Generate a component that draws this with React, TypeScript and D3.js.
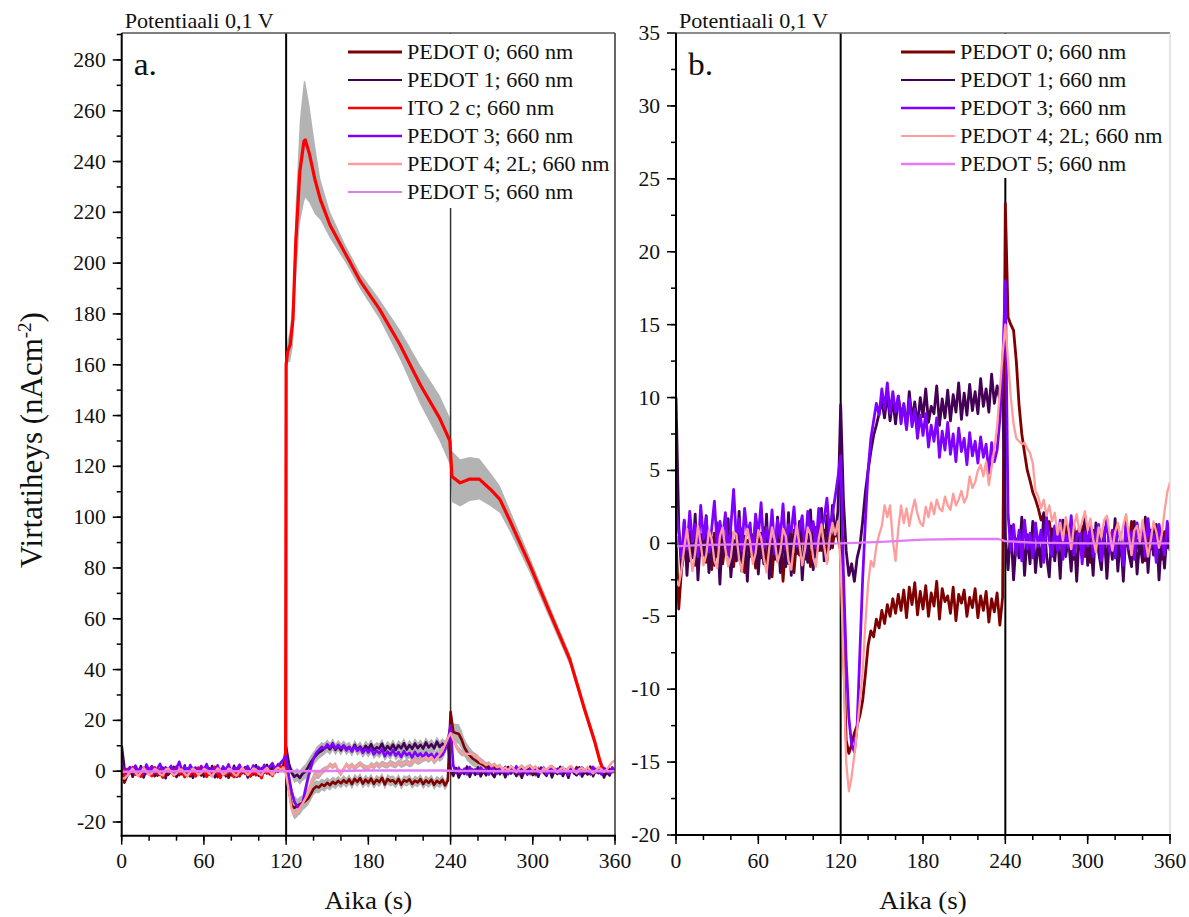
import React from "react";
import * as d3 from "d3";

// ---------- DATA ----------
const TIME_STEP = 2; // s between samples of the noisy series (t = index * TIME_STEP)

const pedot0 = [
  0.5, -4.5, -1.8, -0.6, 0.8, -1.2, 0.3, -1.5, 0.6, -0.8,
  0.9, -1.3, 0.2, -1.8, 0.7, -0.9, 1.2, -1.4, 0.1, -0.7,
  0.8, -1.6, 0.4, -1.1, 1.0, -2.0, 0.2, -0.9, 0.6, -1.7,
  0.3, -1.0, 1.1, -1.5, -0.2, -2.3, 0.5, -1.2, 0.9, -2.6,
  0.1, -1.4, 0.7, -2.0, 0.4, -0.8, 1.3, -1.1, 0.2, -1.6,
  0.8, -0.9, 1.4, -0.5, 0.9, -1.2, 1.6, -0.3, 1.2, 0.4,
  -0.5, -7.0, -13.5, -14.4, -13.8, -13.0, -12.5, -11.8, -10.8, -9.0,
  -7.0, -6.0, -6.4, -5.2, -5.8, -4.6, -5.5, -4.2, -5.0, -3.8,
  -4.8, -3.5, -4.6, -3.2, -5.1, -3.0, -4.2, -2.7, -4.9, -3.3,
  -4.5, -2.9, -5.0, -3.4, -4.3, -2.6, -5.2, -3.1, -4.0, -3.6,
  -4.8, -3.0, -5.3, -3.5, -4.1, -3.2, -5.0, -3.7, -4.4, -3.1,
  -5.1, -3.6, -4.6, -3.3, -5.4, -3.8, -4.7, -3.4, -5.6, -3.7,
  23.3, 15.5, 15.0, 14.6, 12.5, 9.5, 7.5, 6.2, 5.0, 4.3,
  3.5, 3.0, 2.4, 1.6, 2.0, 0.8, 1.5, 0.2, 1.1, -0.4,
  0.9, -0.8, 1.3, -0.2, 0.6, -1.1, 0.8, -0.4, 1.2, -0.9,
  0.5, -1.3, 0.9, -0.3, 1.1, -0.8, 0.4, -1.4, 0.7, -0.2,
  1.0, -0.9, 0.3, -1.6, 0.8, -0.5, 1.5, -1.0, 0.2, -0.7,
  0.9, -1.2, 0.5, -0.4, 1.2, -0.9, 0.3, -1.1, 0.8, -0.3,
  0.2,
];

const pedot1 = [
  10.0, 1.2, -1.8, 1.5, -2.2, 0.8, -1.0, 2.0, -2.5, 0.6,
  -0.8, 1.9, -2.0, 0.4, -1.5, 1.4, -2.8, 0.9, -0.6, 1.7,
  -2.3, 0.2, -1.2, 2.2, -1.9, 0.5, -2.6, 1.0, -0.9, 1.6,
  -2.1, 0.7, -1.4, 2.0, -2.4, 0.3, -1.1, 1.8, -2.0, 0.6,
  -1.6, 2.1, -2.2, 0.9, -0.7, 1.5, -2.5, 0.4, -1.3, 2.3,
  -1.8, 1.1, -0.5, 2.4, -1.2, 1.9, -0.4, 2.6, 0.5, 2.2,
  9.5, 3.0, -0.5, -2.2, -1.4, -2.6, -1.0, -0.2, 1.5, 3.5,
  5.0, 6.3, 7.4, 8.1, 8.9, 9.8, 8.6, 10.3, 8.4, 9.9,
  8.2, 10.1, 8.8, 9.5, 7.9, 10.4, 8.5, 9.7, 8.0, 10.0,
  8.7, 10.6, 8.3, 9.4, 8.9, 10.8, 8.1, 9.9, 8.6, 10.5,
  8.4, 10.2, 9.0, 11.0, 8.5, 10.3, 8.8, 10.9, 9.1, 10.4,
  8.9, 11.3, 9.4, 10.6, 9.0, 11.6, 9.6, 10.8, 9.8, 11.2,
  0.5, -1.8, 1.2, -2.5, 0.3, -1.0, 1.8, -2.2, 0.6, -1.4,
  1.5, -2.0, 0.2, -1.6, 2.1, -0.8, -2.3, 1.0, -1.2, 0.7,
  -2.4, 1.6, -0.9, 0.4, -1.9, 1.2, -2.6, 0.8, -1.0, 1.9,
  -1.5, 0.3, -2.2, 1.4, -0.6, -1.8, 1.1, -2.4, 0.5, -1.1,
  1.7, -1.9, 0.6, -2.6, 1.2, -0.7, -1.6, 1.5, -2.1, 0.2,
  -1.3, 1.8, -2.0, 0.9, -0.8, 1.3, -2.5, 0.6, -1.7, 1.0,
  -0.5,
];

const pedot3 = [
  2.5, 0.8, -1.0, 1.6, -0.4, 2.2, 0.1, 1.3, -0.9, 2.6,
  0.3, 1.8, -0.6, 1.0, 2.9, -0.2, 1.5, 0.4, 2.1, -0.8,
  1.2, 3.7, 0.2, 1.7, -0.5, 2.4, 0.6, 1.4, -1.1, 2.0,
  0.5, 2.8, -0.3, 1.1, 0.0, 2.3, -0.7, 1.6, 0.4, 2.7,
  -0.4, 1.3, 0.8, 2.5, -0.2, 1.0, 1.9, -0.6, 2.2, 0.7,
  1.5, -0.3, 2.4, 0.9, 1.7, 3.1, 0.6, 2.0, 3.2, 4.5,
  6.0, -2.0, -8.0, -12.0, -13.8, -14.3, -12.5, -7.5, -2.5, 1.5,
  5.0, 7.2, 8.4, 9.6, 8.8, 10.6, 9.2, 11.0, 8.9, 10.4,
  9.0, 10.1, 8.2, 9.6, 7.8, 9.9, 8.0, 9.2, 7.2, 8.8,
  7.4, 8.9, 6.6, 8.1, 7.0, 8.6, 5.9, 7.7, 6.4, 8.3,
  6.1, 7.5, 5.6, 7.9, 6.3, 7.2, 5.4, 7.6, 6.0, 7.0,
  5.5, 7.3, 5.9, 6.8, 4.8, 6.9, 5.6, 6.4, 8.5, 12.0,
  18.0, 2.0, -0.5, 1.3, -0.8, 0.9, -1.2, 1.6, -0.4, 0.7,
  -1.0, 1.4, -0.2, 0.9, -1.3, 1.8, 0.1, -0.9, 1.2, -0.5,
  1.6, -1.1, 0.6, -0.3, 1.9, -0.8, 0.4, 1.1, -1.4, 0.8,
  -0.2, 1.5, -0.9, 0.7, 1.3, -1.2, 0.3, 1.7, -0.6, 0.9,
  -1.0, 1.2, 0.2, -1.5, 1.6, -0.4, 0.8, -1.1, 1.4, 0.0,
  1.1, -0.9, 1.7, -0.3, 0.6, -1.3, 1.3, 0.2, -0.8, 1.5,
  0.3,
];

const pedot4 = [
  -2.5, -2.9, -1.8, -0.3, 1.0, -0.5, -1.9, -0.6, 1.2, 0.0,
  -1.5, -0.8, 0.9, 0.3, -1.2, -1.7, 0.5, 1.1, -0.4, -1.6,
  -0.9, 0.8, 0.6, -1.1, -1.9, -0.2, 1.0, 0.1, -1.4, -0.7,
  0.9, 0.4, -1.0, -2.0, -0.3, 1.1, 0.2, -1.3, -0.6, 1.0,
  0.5, -1.2, -1.8, 0.0, 1.2, -0.1, -1.5, -0.4, 1.1, 0.6,
  -1.0, -1.6, 0.3, 1.3, -0.2, -1.4, 0.4, 1.4, 0.6, 1.5,
  -1.5, -8.0, -15.0, -17.0, -16.0, -14.5, -12.8, -10.8, -8.8, -5.5,
  -2.8, -1.2, -1.6, -0.2, 0.6, 1.2, 2.6, 1.8, 2.6, 0.2,
  -1.2, 1.0, 2.6, 1.4, 2.4, 1.2, 2.2, 3.0, 2.0, 1.4,
  1.2, 2.5, 1.8, 2.8, 2.0, 3.0, 2.4, 2.2, 3.2, 2.6,
  2.3, 3.4, 2.6, 3.0, 3.6, 2.8, 3.2, 4.6, 3.8, 4.2,
  5.0, 5.4, 4.6, 5.6, 4.0, 5.2, 6.5, 8.0, 10.5, 13.0,
  15.0, 12.5, 10.0, 8.2, 7.2, 7.0, 6.8, 6.9, 6.5, 6.2,
  5.5, 3.6, 3.2, 2.4, 3.0, 1.9, 2.6, 1.5, 2.1, 0.6,
  1.4, 0.2, 1.8, 1.0, -0.4, 1.2, 2.0, 0.8, 1.5, 2.2,
  0.9, 1.7, 0.3, -0.6, 1.1, 0.4, 1.6, 1.9, 0.7, -0.5,
  0.8, 1.4, 0.2, 1.3, 2.0, 0.5, -0.8, 0.9, 1.2, 0.1,
  1.6, 0.3, -0.9, 0.2, 1.5, 0.8, -0.3, 0.6, 2.2, 3.5,
  4.2,
];

const pedot5: [number, number][] = [
  [0, -0.2], [20, -0.1], [60, -0.05], [120, 0.0], [150, 0.1], [180, 0.25],
  [210, 0.3], [235, 0.3], [240, 0.15], [260, 0.05], [300, 0.0], [360, 0.0],
];

const itoBaseline = [
  1.0, -1.5, 0.8, -0.6, 1.5, -1.2, 0.3, -2.0, 1.2, -0.4,
  0.6, -1.8, 1.4, -0.9, 0.2, -2.4, 1.1, -0.3, 0.9, -1.6,
  1.7, -0.8, 0.4, -2.2, 1.0, -1.1, 0.5, -1.9, 1.3, -0.5,
  0.8, -2.1, 0.2, -1.0, 1.6, -0.7, -2.5, 0.4, -1.3, 0.9,
  -0.6, -2.2, 1.0, -1.5, 0.3, -0.9, 1.4, -2.0, 0.6, -1.2,
  0.7, -2.6, 1.2, -0.8, 0.2, -1.7, 1.5, 0.4, 1.8, 0.9,
];

const itoResponse: [number, number][] = [
  [119.6, 1], [120, 160], [121, 165], [123, 168], [125, 178], [127, 208], [130, 236],
  [133, 248], [134, 248.5], [137, 243], [141, 233], [145, 225], [152, 215], [163, 204],
  [174, 193], [188, 182], [203, 168], [218, 152], [232, 139], [239.5, 130], [241, 116],
  [247, 113.5], [254, 115], [261, 115], [269, 111], [276, 107], [283, 99], [298, 81],
  [312, 63], [327, 44], [338, 24], [345, 12], [349, 4], [351, 1],
];

// standard deviations (grey shading, panel a)
const itoStd: [number, number][] = [
  [120, 3], [124, 8], [128, 18], [133, 24], [138, 18], [145, 8], [155, 4], [170, 3],
  [190, 4], [205, 6], [220, 8], [232, 9], [239, 9], [241, 10], [250, 9], [262, 8],
  [272, 6], [285, 4], [300, 3], [340, 2], [351, 2],
];
const pedot0Std: [number, number][] = [
  [0, 0.5], [120, 0.5], [124, 2], [130, 3], [140, 2.5], [160, 2], [238, 2], [240, 3],
  [246, 4], [256, 3], [270, 1.5], [360, 0.8],
];
const pedot1Std: [number, number][] = [
  [0, 0.5], [120, 1], [126, 2.5], [135, 3], [145, 2.5], [160, 2], [238, 2.2], [242, 1], [360, 0.5],
];
const pedot3Std: [number, number][] = [
  [0, 0.5], [120, 1], [128, 3], [135, 3], [145, 2], [238, 2], [240, 3], [244, 1], [360, 0.5],
];
const pedot4Std: [number, number][] = [
  [0, 0.5], [120, 1], [126, 2], [135, 2.5], [150, 1], [240, 1.5], [260, 1], [360, 0.5],
];

const xTickLabels = [0, 60, 120, 180, 240, 300, 360];
const yTickLabelsA = [-20, 0, 20, 40, 60, 80, 100, 120, 140, 160, 180, 200, 220, 240, 260, 280];
const yTickLabelsB = [-20, -15, -10, -5, 0, 5, 10, 15, 20, 25, 30, 35];
const stepTimes = [120, 240];

const legendA = [
  "PEDOT 0; 660 nm", "PEDOT 1; 660 nm", "ITO 2 c; 660 nm",
  "PEDOT 3; 660 nm", "PEDOT 4; 2L; 660 nm", "PEDOT 5; 660 nm",
];
const legendB = [
  "PEDOT 0; 660 nm", "PEDOT 1; 660 nm", "PEDOT 3; 660 nm",
  "PEDOT 4; 2L; 660 nm", "PEDOT 5; 660 nm",
];

// ---------- STYLE ----------
const C0 = "#800000";
const C1 = "#430055";
const CITO = "#ff0000";
const C3 = "#8000ff";
const C4 = "#ff9c9c";
const C5 = "#e27cf2";
const GREY = "#b3b3b3";
const FONT = "'Liberation Serif','Times New Roman',serif";
const SX = 1.08;

type Pt = [number, number];
const grid = (vals: number[]): Pt[] => vals.map((v, i) => [i * TIME_STEP, v]);

const series = {
  p0: grid(pedot0),
  p1: grid(pedot1),
  p3: grid(pedot3),
  p4: grid(pedot4),
  p5: pedot5 as Pt[],
  ito: [...grid(itoBaseline), ...itoResponse] as Pt[],
};

function T({ x, y, size, anchor = "start", children }: any) {
  return (
    <text
      transform={`translate(${x},${y}) scale(${SX},1)`}
      fontSize={size}
      textAnchor={anchor}
      fontFamily={FONT}
      fill="#111"
    >
      {children}
    </text>
  );
}

function Panel({ cfg }: any) {
  const { id, x0, x1, yTop, yBot, yDomain, yLabels, yMinorStep, letter, legend, legendBox, legendX, showGrey, lines, topColor, rightColor, line240 } = cfg;
  const x = d3.scaleLinear().domain([0, 360]).range([x0, x1]);
  const y = d3.scaleLinear().domain(yDomain).range([yBot, yTop]);
  const lineGen = d3.line<Pt>().x((d) => x(d[0])).y((d) => y(d[1]));
  const band = (pts: Pt[], std: Pt[]) => {
    const s = d3.scaleLinear().domain(std.map((d) => d[0])).range(std.map((d) => d[1])).clamp(true);
    return d3.area<Pt>().x((d) => x(d[0])).y0((d) => y(d[1] - s(d[0]))).y1((d) => y(d[1] + s(d[0])))(pts) || "";
  };
  const clipId = `clip-${id}`;
  const yMinor = d3.range(yLabels[0], yDomain[1], yMinorStep);
  const xMinor = d3.range(0, 361, 20);

  return (
    <g>
      <defs>
        <clipPath id={clipId}>
          <rect x={x0} y={yTop} width={x1 - x0} height={yBot - yTop} />
        </clipPath>
      </defs>
      <g clipPath={`url(#${clipId})`}>
        {showGrey && (
          <g fill={GREY}>
            <path d={band(series.p0, pedot0Std)} />
            <path d={band(series.p1, pedot1Std)} />
            <path d={band(series.p3, pedot3Std)} />
            <path d={band(series.p4, pedot4Std)} />
            <path d={band(series.ito.filter((d) => d[0] >= 120), itoStd)} />
          </g>
        )}
        {stepTimes.map((t) => (
          <line key={t} x1={x(t)} x2={x(t)} y1={yTop} y2={yBot}
            stroke={t === 240 ? line240 : "#000"} strokeWidth={t === 240 && id === "a" ? 1.5 : 2} />
        ))}
        {lines.map((l: any, i: number) => (
          <path key={i} d={lineGen(l.pts) || ""} fill="none" stroke={l.color} strokeWidth={l.w} strokeLinejoin="round" />
        ))}
        <rect x={legendBox[0]} y={legendBox[1]} width={legendBox[2]} height={legendBox[3]} fill="#fff" />
      </g>
      {/* frame */}
      <line x1={x0} x2={x1} y1={yTop} y2={yTop} stroke={topColor} strokeWidth={1.5} />
      <line x1={x1} x2={x1} y1={yTop} y2={yBot} stroke={rightColor} strokeWidth={1.5} />
      <line x1={x0} x2={x0} y1={yTop} y2={yBot + 1} stroke="#000" strokeWidth={2} />
      <line x1={x0 - 1} x2={x1 + 1} y1={yBot} y2={yBot} stroke="#000" strokeWidth={2} />
      {/* y ticks */}
      {yMinor.map((v: number) => (
        <line key={`ym${v}`} x1={x0 - 5} x2={x0} y1={y(v)} y2={y(v)} stroke="#000" strokeWidth={1.5} />
      ))}
      {yLabels.map((v: number) => (
        <g key={`y${v}`}>
          <line x1={x0 - 9} x2={x0} y1={y(v)} y2={y(v)} stroke="#000" strokeWidth={1.5} />
          <T x={x0 - 16} y={y(v) + 7} size={20} anchor="end">{v}</T>
        </g>
      ))}
      {/* x ticks */}
      {xMinor.map((v) => (
        <line key={`xm${v}`} x1={x(v)} x2={x(v)} y1={yBot} y2={yBot + 5} stroke="#000" strokeWidth={1.5} />
      ))}
      {xTickLabels.map((v) => (
        <g key={`x${v}`}>
          <line x1={x(v)} x2={x(v)} y1={yBot} y2={yBot + 9} stroke="#000" strokeWidth={1.5} />
          <T x={x(v)} y={868} size={20} anchor="middle">{v}</T>
        </g>
      ))}
      <T x={(x0 + x1) / 2} y={909} size={25} anchor="middle">Aika (s)</T>
      <T x={x0 + 3} y={28} size={20.5}>Potentiaali 0,1 V</T>
      <T x={x0 + 12} y={75} size={31}>{letter}</T>
      {/* legend */}
      {legend.map((name: string, i: number) => {
        const ly = legendBox[1] + 18 + i * 28;
        const l = lines.find((q: any) => q.name === name);
        return (
          <g key={name}>
            <line x1={legendX} x2={legendX + 54} y1={ly} y2={ly} stroke={l.color} strokeWidth={l.lw} />
            <T x={legendX + 59} y={ly + 7} size={20.5}>{name}</T>
          </g>
        );
      })}
    </g>
  );
}

export default function App() {
  const linesA = [
    { name: legendA[0], pts: series.p0, color: C0, w: 2.6, lw: 3 },
    { name: legendA[1], pts: series.p1, color: C1, w: 2.6, lw: 2 },
    { name: legendA[2], pts: series.ito, color: CITO, w: 3.2, lw: 2.5 },
    { name: legendA[3], pts: series.p3, color: C3, w: 2.6, lw: 2.5 },
    { name: legendA[4], pts: series.p4, color: C4, w: 2.4, lw: 2.5 },
    { name: legendA[5], pts: series.p5, color: C5, w: 2.5, lw: 2 },
  ];
  const linesB = [
    { name: legendB[0], pts: series.p0, color: C0, w: 2.8, lw: 3 },
    { name: legendB[1], pts: series.p1, color: C1, w: 2.8, lw: 2 },
    { name: legendB[2], pts: series.p3, color: C3, w: 2.8, lw: 2.5 },
    { name: legendB[3], pts: series.p4, color: C4, w: 2.3, lw: 2 },
    { name: legendB[4], pts: series.p5, color: C5, w: 2.3, lw: 2.5 },
  ];
  const cfgA = {
    id: "a", x0: 121.7, x1: 615, yTop: 33, yBot: 835.7, yDomain: [-25.4, 290.6],
    yLabels: yTickLabelsA, yMinorStep: 10, letter: "a.", legend: legendA,
    legendBox: [343, 34, 271, 174], legendX: 348, showGrey: true, lines: linesA,
    topColor: "#555", rightColor: "#333", line240: "#333",
  };
  const cfgB = {
    id: "b", x0: 676, x1: 1170, yTop: 33, yBot: 835, yDomain: [-20, 35],
    yLabels: yTickLabelsB, yMinorStep: 2.5, letter: "b.", legend: legendB,
    legendBox: [896, 34, 273, 144], legendX: 901, showGrey: false, lines: linesB,
    topColor: "#666", rightColor: "#ddd", line240: "#000",
  };
  return (
    <svg width={1189} height={917} style={{ position: "absolute", left: 0, top: 0, background: "#fff" }}>
      <rect width={1189} height={917} fill="#fff" />
      <Panel cfg={cfgA} />
      <Panel cfg={cfgB} />
      <text
        transform="translate(42,440) rotate(-90)"
        fontSize={31}
        textAnchor="middle"
        fontFamily={FONT}
        fill="#111"
      >
        Virtatiheys (nAcm<tspan dy={-11} fontSize={19}>-2</tspan><tspan dy={11}>)</tspan>
      </text>
    </svg>
  );
}
